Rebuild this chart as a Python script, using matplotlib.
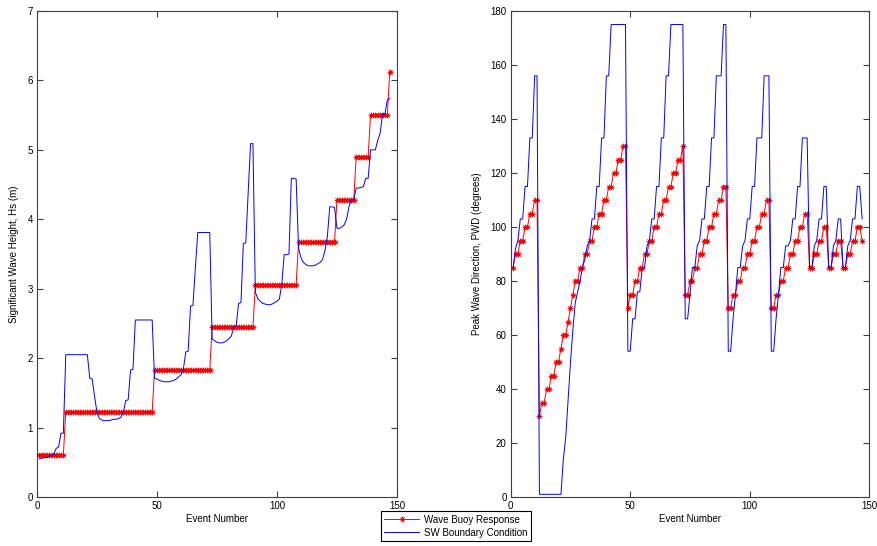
import numpy as np
from matplotlib import pyplot as plt

plt.rcParams['font.family'] = ['Liberation Sans', 'DejaVu Sans']

# event index 1..147
events = np.arange(1, 148)

# wave buoy significant wave height (m), one value per event
hs_buoy = [
    0.612, 0.612, 0.612, 0.612, 0.612, 0.612, 0.612, 0.612, 0.612, 0.612, 0.612,
    1.224, 1.224, 1.224, 1.224, 1.224, 1.224, 1.224, 1.224, 1.224, 1.224,
    1.224, 1.224, 1.224, 1.224, 1.224, 1.224, 1.224, 1.224, 1.224, 1.224,
    1.224, 1.224, 1.224, 1.224, 1.224, 1.224, 1.224, 1.224, 1.224, 1.224,
    1.224, 1.224, 1.224, 1.224, 1.224, 1.224, 1.224,
    1.836, 1.836, 1.836, 1.836, 1.836, 1.836, 1.836, 1.836, 1.836, 1.836, 1.836, 1.836,
    1.836, 1.836, 1.836, 1.836, 1.836, 1.836, 1.836, 1.836, 1.836, 1.836, 1.836, 1.836,
    2.448, 2.448, 2.448, 2.448, 2.448, 2.448, 2.448, 2.448, 2.448,
    2.448, 2.448, 2.448, 2.448, 2.448, 2.448, 2.448, 2.448, 2.448,
    3.06, 3.06, 3.06, 3.06, 3.06, 3.06, 3.06, 3.06, 3.06,
    3.06, 3.06, 3.06, 3.06, 3.06, 3.06, 3.06, 3.06, 3.06,
    3.672, 3.672, 3.672, 3.672, 3.672, 3.672, 3.672, 3.672,
    3.672, 3.672, 3.672, 3.672, 3.672, 3.672, 3.672, 3.672,
    4.284, 4.284, 4.284, 4.284, 4.284, 4.284, 4.284, 4.284,
    4.896, 4.896, 4.896, 4.896, 4.896, 4.896,
    5.508, 5.508, 5.508, 5.508, 5.508, 5.508, 5.508, 5.508,
    6.12,
]

# SW boundary condition significant wave height (m)
hs_sw = [
    0.55, 0.56, 0.57, 0.57, 0.58, 0.60, 0.62, 0.70, 0.72, 0.92, 0.92,
    2.05, 2.05, 2.05, 2.05, 2.05, 2.05, 2.05, 2.05, 2.05, 2.05,
    1.71, 1.70, 1.45, 1.22, 1.13, 1.11, 1.10, 1.10, 1.10, 1.11,
    1.12, 1.12, 1.13, 1.15, 1.22, 1.39, 1.40, 1.83, 1.84, 2.55,
    2.55, 2.55, 2.55, 2.55, 2.55, 2.55, 2.55,
    1.71, 1.70, 1.68, 1.67, 1.66, 1.66, 1.66, 1.67, 1.68, 1.70, 1.73, 1.76,
    1.84, 2.09, 2.10, 2.75, 2.76, 3.30, 3.81, 3.81, 3.81, 3.81, 3.81, 3.81,
    2.28, 2.25, 2.23, 2.22, 2.22, 2.23, 2.25, 2.28, 2.32,
    2.45, 2.46, 2.79, 2.80, 3.65, 3.66, 4.37, 5.09, 5.09,
    2.95, 2.86, 2.82, 2.79, 2.78, 2.77, 2.77, 2.78, 2.80,
    2.82, 2.85, 3.06, 3.49, 3.49, 3.50, 4.59, 4.59, 4.58,
    3.58, 3.45, 3.38, 3.35, 3.33, 3.33, 3.33, 3.34,
    3.36, 3.38, 3.42, 3.55, 3.75, 4.18, 4.18, 4.17,
    3.87, 3.87, 3.89, 3.92, 4.00, 4.18, 4.28, 4.28,
    4.45, 4.45, 4.46, 4.47, 4.59, 4.59,
    5.00, 5.00, 5.00, 5.14, 5.24, 5.52, 5.52, 5.72,
    5.74,
]

# wave buoy peak wave direction (degrees)
pwd_buoy = [
    85, 90, 90, 95, 95, 100, 100, 105, 105, 110, 110,
    30, 35, 35, 40, 40, 45, 45, 50, 50, 55, 60, 60, 65, 70, 75, 80, 80,
    85, 85, 90, 90, 95, 95, 100, 100, 105, 105, 110, 110, 115, 115,
    120, 120, 125, 125, 130, 130,
    70, 75, 75, 80, 80, 85, 85, 90, 90, 95, 95, 100, 100,
    105, 105, 110, 110, 115, 115, 120, 120, 125, 125, 130,
    75, 75, 80, 80, 85, 85, 90, 90, 95, 95, 100, 100, 105, 105, 110, 110, 115, 115,
    70, 70, 75, 75, 80, 80, 85, 85, 90, 90, 95, 95, 100, 100, 105, 105, 110, 110,
    70, 70, 75, 75, 80, 80, 85, 85, 90, 90, 95, 95, 100, 100, 105, 105,
    85, 85, 90, 90, 95, 95, 100, 100,
    85, 85, 90, 90, 95, 95,
    85, 85, 90, 90, 95, 95, 100, 100,
    95,
]

# SW boundary condition peak wave direction (degrees)
pwd_sw = [
    85, 92, 95, 103, 103, 115, 115, 133, 133, 156, 156,
    1, 1, 1, 1, 1, 1, 1, 1, 1, 1,
    14, 22, 36, 50, 62, 72, 76, 80, 85, 88,
    93, 95, 103, 103, 115, 115, 133, 133, 156, 156,
    175, 175, 175, 175, 175, 175, 175,
    54, 54, 66, 66, 76, 76, 85, 85, 93, 95, 103, 103,
    115, 115, 133, 133, 156, 156, 175, 175, 175, 175, 175, 175,
    66, 66, 75, 85, 85, 93, 95, 103, 103, 115, 115, 133, 133, 156, 156, 156, 175, 175,
    54, 54, 66, 75, 85, 85, 93, 95, 103, 103, 115, 115, 133, 133, 133, 156, 156, 156,
    54, 54, 66, 75, 85, 85, 93, 93, 95, 103, 103, 115, 115, 133, 133, 133,
    85, 85, 93, 95, 103, 103, 115, 115,
    85, 85, 93, 95, 103, 103,
    85, 85, 93, 95, 103, 103, 115, 115,
    103,
]

fs = 7
ast = (8, 2, 0)  # matlab-ish asterisk

fig = plt.figure(figsize=(8.78, 5.46), dpi=100)
ax1 = fig.add_axes([0.0421, 0.0897, 0.4100, 0.8901])
ax2 = fig.add_axes([0.5817, 0.0897, 0.4084, 0.8901])

ax1.plot(events, hs_buoy, color='red', lw=0.7, marker=ast, ms=4, mew=0.45,
         label='Wave Buoy Response')
ax1.plot(events, hs_sw, color='blue', lw=0.7, label='SW Boundary Condition')
ax2.plot(events, pwd_buoy, color='red', lw=0.7, marker=ast, ms=4, mew=0.45)
ax2.plot(events, pwd_sw, color='blue', lw=0.7)

ax1.set_xlim(0, 150)
ax1.set_ylim(0, 7)
ax1.set_xticks([0, 50, 100, 150])
ax1.set_yticks(range(0, 8))
ax1.set_ylabel('Significant Wave Height, Hs (m)', fontsize=fs, labelpad=6)

ax2.set_xlim(0, 150)
ax2.set_ylim(0, 180)
ax2.set_xticks([0, 50, 100, 150])
ax2.set_yticks(range(0, 181, 20))
ax2.set_ylabel('Peak Wave Direction, PWD (degrees)', fontsize=fs, labelpad=6)

for ax in (ax1, ax2):
    ax.set_xlabel('Event Number', fontsize=fs, labelpad=2)
    ax.tick_params(direction='in', top=True, right=True, labelsize=fs,
                   length=4, width=0.8, color='#404040', pad=3)
    for s in ax.spines.values():
        s.set_color('#404040')
        s.set_linewidth(0.8)

leg = fig.legend(loc='lower center', bbox_to_anchor=(0.519, 0.0), fontsize=fs,
                 fancybox=False, edgecolor='black', framealpha=1,
                 handlelength=3.6, borderpad=0.35, labelspacing=0.3, handletextpad=0.5)
leg.get_frame().set_linewidth(0.8)

fig.savefig('out.png', dpi=100)
